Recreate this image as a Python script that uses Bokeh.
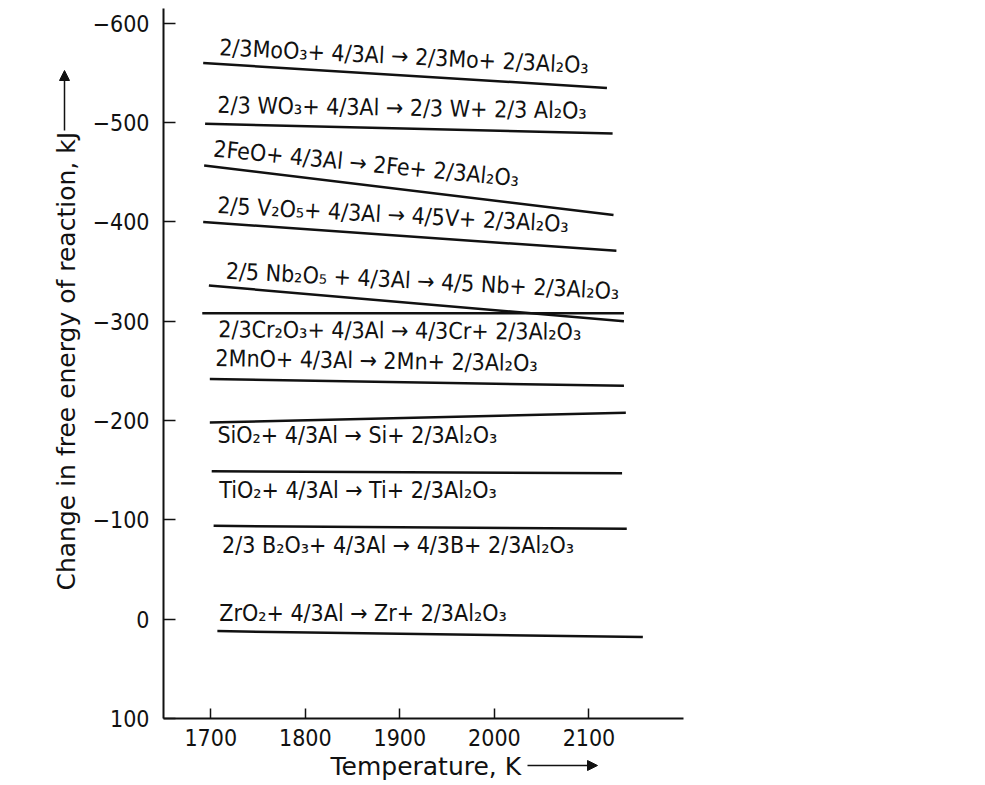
import math
from bokeh.plotting import figure
from bokeh.models import Range1d, FixedTicker, Arrow, NormalHead, ColumnDataSource
from bokeh.embed import file_html
from bokeh.resources import INLINE
from bokeh.core.properties import value

# ---- data ----
REACTIONS = [
    "2/3MoO₃+ 4/3Al → 2/3Mo+ 2/3Al₂O₃",
    "2/3 WO₃+ 4/3Al → 2/3 W+ 2/3 Al₂O₃",
    "2FeO+ 4/3Al → 2Fe+ 2/3Al₂O₃",
    "2/5 V₂O₅+ 4/3Al → 4/5V+ 2/3Al₂O₃",
    "2/5 Nb₂O₅ + 4/3Al → 4/5 Nb+ 2/3Al₂O₃",
    "2/3Cr₂O₃+ 4/3Al → 4/3Cr+ 2/3Al₂O₃",
    "2MnO+ 4/3Al → 2Mn+ 2/3Al₂O₃",
    "SiO₂+ 4/3Al → Si+ 2/3Al₂O₃",
    "TiO₂+ 4/3Al → Ti+ 2/3Al₂O₃",
    "2/3 B₂O₃+ 4/3Al → 4/3B+ 2/3Al₂O₃",
    "ZrO₂+ 4/3Al → Zr+ 2/3Al₂O₃",
]
T_START = [1692, 1694, 1693, 1692, 1698, 1691, 1699, 1699, 1701, 1703, 1707]
T_END   = [2119, 2125, 2126, 2129, 2137, 2137, 2137, 2139, 2135, 2140, 2157]
G_START = [-560, -499, -457, -400, -336, -308, -242, -198, -149, -94, 12]
G_END   = [-535, -489, -407, -371, -300, -308, -235, -208, -147, -91, 18]

# label anchors (data coordinates) and tilt
LABEL_T = [1709, 1707, 1703, 1707, 1716, 1708, 1705, 1707, 1709, 1712, 1709]
LABEL_G = [-576, -518, -474, -417, -351, -292, -263, -186, -130, -75, -6]
LABEL_ANGLE_DEG = [-2.8, -0.9, -5.6, -3.1, -3.0, -0.4, -0.9, 0.0, 0.0, 0.0, 0.0]

X_TICKS = [1700, 1800, 1900, 2000, 2100]
Y_TICKS = [-600, -500, -400, -300, -200, -100, 0, 100]
Y_TICK_LABELS = ["−600", "−500", "−400", "−300", "−200", "−100", "0", "100"]

X_TITLE = "Temperature, K"
Y_TITLE = "Change in free energy of reaction, kJ"

# axis extents (data)
X_MIN, X_MAX = 1650, 2200
Y_MIN, Y_MAX = -615, 100

# ---- layout: the plot area fills the page, axes are pinned inside it ----
W, H = 985, 785
AX_LEFT_PX, AX_RIGHT_PX = 163, 683      # where the axes sit on the page
AX_TOP_PX, AX_BOTTOM_PX = 8, 718
SX = (AX_RIGHT_PX - AX_LEFT_PX) / (X_MAX - X_MIN)
SY = (AX_BOTTOM_PX - AX_TOP_PX) / (Y_MAX - Y_MIN)
x_range = Range1d(X_MIN - AX_LEFT_PX / SX, X_MIN + (W - AX_LEFT_PX) / SX)
y_range = Range1d(Y_MAX + (H - AX_BOTTOM_PX) / SY, Y_MIN - AX_TOP_PX / SY)


def px_x(px):
    return X_MIN + (px - AX_LEFT_PX) / SX


def px_y(py):
    return Y_MIN + (py - AX_TOP_PX) / SY


FONT = "DejaVu Sans Condensed, Liberation Sans Narrow, sans-serif"
TITLE_FONT = "DejaVu Sans, sans-serif"
INK = "#111111"

p = figure(width=W, height=H, x_range=x_range, y_range=y_range,
           output_backend="svg", toolbar_location=None,
           min_border=0, min_border_left=0, min_border_right=0,
           min_border_top=0, min_border_bottom=0,
           background_fill_color="white", border_fill_color="white")
p.outline_line_color = None
p.grid.grid_line_color = None

p.xaxis.fixed_location = Y_MAX
p.yaxis.fixed_location = X_MIN
p.xaxis.bounds = (X_MIN, X_MAX)
p.yaxis.bounds = (Y_MIN, Y_MAX)

for ax in (p.xaxis[0], p.yaxis[0]):
    ax.axis_line_width = 2
    ax.axis_line_color = INK
    ax.major_tick_line_color = INK
    ax.major_tick_line_width = 1.5
    ax.major_tick_out = 0
    ax.minor_tick_line_color = None
    ax.major_label_text_font = FONT
    ax.major_label_text_color = INK

p.xaxis.ticker = FixedTicker(ticks=X_TICKS)
p.xaxis.major_tick_in = 10
p.xaxis.major_label_text_font_size = "23px"
p.xaxis.major_label_standoff = 10
p.yaxis.ticker = FixedTicker(ticks=Y_TICKS)
p.yaxis.major_tick_in = 12
p.yaxis.major_label_overrides = {t: s for t, s in zip(Y_TICKS, Y_TICK_LABELS)}
p.yaxis.major_label_text_font_size = "23px"
p.yaxis.major_label_standoff = 14

# reaction lines
p.segment(x0=T_START, y0=G_START, x1=T_END, y1=G_END,
          line_color=INK, line_width=2.5)

# reaction labels
src = ColumnDataSource(dict(x=LABEL_T, y=LABEL_G, text=REACTIONS,
                            angle=[math.radians(a) for a in LABEL_ANGLE_DEG]))
p.text(x="x", y="y", text="text", angle="angle", source=src,
       text_font=value(FONT), text_font_size="23px", text_color=INK,
       text_align="left", text_baseline="alphabetic")

# axis titles with arrows
p.text(x=[px_x(66)], y=[px_y(590)], text=[Y_TITLE], angle=math.pi / 2,
       text_align="left", text_baseline="middle",
       text_font=value(TITLE_FONT), text_font_size="25px", text_color=INK)
p.add_layout(Arrow(x_start=px_x(64), y_start=px_y(130), x_end=px_x(64), y_end=px_y(70),
                   line_color=INK, line_width=1.5,
                   end=NormalHead(size=10, fill_color=INK, line_color=INK)))
p.text(x=[px_x(330)], y=[px_y(766)], text=[X_TITLE],
       text_align="left", text_baseline="alphabetic",
       text_font=value(TITLE_FONT), text_font_size="25px", text_color=INK)
p.add_layout(Arrow(x_start=px_x(527), y_start=px_y(765), x_end=px_x(597), y_end=px_y(765),
                   line_color=INK, line_width=1.5,
                   end=NormalHead(size=10, fill_color=INK, line_color=INK)))

open("out.html", "w").write(file_html(p, INLINE))
